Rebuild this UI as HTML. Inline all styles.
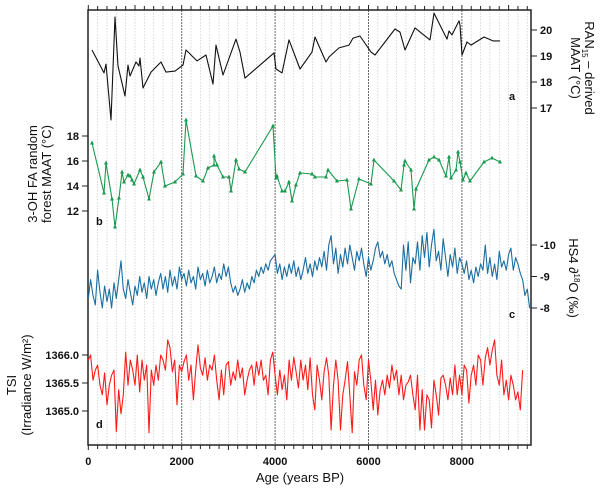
<!DOCTYPE html>
<html><head><meta charset="utf-8"><style>
html,body{margin:0;padding:0;background:#fff;}
svg{display:block;font-family:"Liberation Sans",sans-serif;}
.tk{font-size:11px;font-weight:bold;fill:#111;}
.tt{font-size:13px;fill:#111;}
</style></head><body>
<svg id="chart" width="600" height="490" viewBox="0 0 600 490">
<g id="grid"></g>
<g id="frame"></g>
<g id="series"></g>
<g id="labels">
<text class="tt" x="300" y="482" text-anchor="middle">Age (years BP)</text>
<text class="tt" transform="translate(585,68) rotate(90)" text-anchor="middle">RAN<tspan font-size="8" dy="3">15</tspan><tspan dy="-3"> – derived</tspan></text>
<text class="tt" transform="translate(571,68) rotate(90)" text-anchor="middle">MAAT (°C)</text>
<text class="tt" transform="translate(37,174) rotate(-90)" text-anchor="middle">3-OH FA random</text>
<text class="tt" transform="translate(51,174) rotate(-90)" text-anchor="middle">forest MAAT (°C)</text>
<text class="tt" transform="translate(569,278) rotate(90)" text-anchor="middle">HS4 <tspan font-style="italic">∂</tspan><tspan font-size="8" dy="-5">18</tspan><tspan dy="5">O (‰)</tspan></text>
<text class="tt" transform="translate(16,385) rotate(-90)" text-anchor="middle">TSI</text>
<text class="tt" transform="translate(31,385) rotate(-90)" text-anchor="middle">(Irradiance W/m²)</text>
<text class="tk" x="509" y="100" font-size="12">a</text>
<text class="tk" x="96" y="225" font-size="12">b</text>
<text class="tk" x="509" y="318" font-size="12">c</text>
<text class="tk" x="96" y="428" font-size="12">d</text>
</g>
</svg>
<script>
// ---- data ----
const xTicks = [0, 2000, 4000, 6000, 8000];
const aTicks = [20, 19, 18, 17];
const bTicks = [18, 16, 14, 12];
const cTicks = [-10, -9, -8];
const dTicks = [1366.0, 1365.5, 1365.0];
const dTickLabels = ["1366.0", "1365.5", "1365.0"];

const aAges = [79,336,379,486,572,636,786,850,893,1021,1086,1107,1171,1343,1557,1664,1857,2028,2092,2328,2520,2670,2734,2884,3162,3248,3355,3976,4019,4147,4297,4533,4790,4854,5090,5154,5368,5582,5668,5817,6053,6139,6567,6674,6781,6995,7317,7402,7681,7724,7788,7938,7959,8002,8109,8195,8473,8666,8816];
const aVals = [19.23,18.35,18.69,16.54,20.5,18.62,17.46,18.65,18.23,18.77,18.62,18.92,17.77,18.38,18.77,18.38,18.42,18.65,19.23,18.81,19.04,17.92,19.42,18.27,19.65,19.15,18.15,19.12,18.5,18.35,19.62,18.5,19.15,19.73,18.77,18.96,19.31,19.42,19.69,19.77,19.15,19.04,20.04,19.92,19.23,20.08,19.62,20.65,19.65,19.96,19.81,20.35,20.19,19.04,19.54,19.42,19.73,19.58,19.58];

const bAges = [79,336,379,508,572,657,722,764,850,893,936,979,1107,1171,1300,1407,1557,1642,1857,2028,2092,2306,2456,2563,2692,2692,2756,2884,3013,3056,3162,3227,3355,3955,4019,4040,4147,4212,4297,4362,4447,4533,4790,4854,5090,5133,5325,5539,5625,5796,6053,6117,6546,6696,6760,6781,6910,6974,7017,7295,7402,7509,7659,7724,7767,7874,7917,7959,8024,8088,8173,8473,8645,8816];
const bVals = [17.44,13.44,15.84,12.96,10.72,13.04,15.12,14.32,14.88,14.8,14.48,14.16,15.28,14.72,12.96,15.12,15.92,14,14.32,14.96,19.28,14.8,14.4,15.44,15.68,16.4,15.68,14.72,14.72,13.6,16.08,15.36,15.12,18.8,14.64,14.8,13.6,13.6,14.32,12.8,14.08,15.04,14.96,14.72,14.72,15.28,14.4,14.48,12.16,14.56,14.16,16.08,14.4,13.68,15.68,16,15.28,12.16,13.76,16.08,16.32,16.08,14.8,16.32,14.64,15.28,16.72,15.92,14.48,15.04,14.4,15.92,16.24,15.92];

const cStep = 50;
const cVals = [-8.3,-8.9,-8.4,-8.1,-9.2,-8.5,-8.0,-8.7,-8.2,-8.6,
-8.0,-8.8,-8.3,-8.9,-9.5,-8.6,-8.3,-8.9,-8.5,-8.1,
-8.7,-8.4,-9.0,-8.5,-8.8,-8.3,-9.0,-8.6,-8.9,-8.4,
-8.8,-9.1,-8.6,-9.0,-8.5,-9.2,-8.7,-9.0,-8.6,-9.3,
-8.9,-9.1,-8.7,-9.2,-8.8,-9.0,-8.6,-9.3,-8.9,-9.1,
-8.7,-9.2,-8.8,-9.0,-9.3,-8.8,-9.1,-8.9,-9.4,-9.0,
-9.3,-8.8,-8.5,-8.7,-8.4,-8.6,-8.9,-8.5,-8.8,-8.6,
-9.0,-8.8,-9.2,-9.0,-9.3,-9.1,-9.4,-9.2,-9.5,-9.6,
-9.7,-9.1,-9.4,-8.9,-9.3,-9.0,-9.4,-9.1,-9.5,-9.0,
-9.3,-8.9,-9.2,-9.6,-9.1,-9.4,-9.0,-9.5,-9.2,-9.6,
-9.3,-9.8,-9.2,-10.0,-10.3,-9.4,-9.9,-9.1,-9.7,-9.3,
-9.9,-9.4,-10.0,-9.6,-9.2,-9.8,-9.5,-9.9,-9.4,-9.0,
-9.6,-9.2,-9.5,-9.9,-10.1,-9.6,-9.8,-9.4,-9.7,-9.3,
-9.5,-9.1,-8.9,-8.7,-8.6,-10.0,-9.2,-10.1,-8.8,-9.6,
-9.4,-10.1,-9.2,-10.3,-9.6,-10.4,-9.3,-10.0,-10.5,-9.5,
-9.8,-9.2,-10.2,-9.6,-9.0,-9.7,-9.3,-9.9,-9.1,-9.6,
-9.4,-9.1,-9.5,-8.9,-9.2,-8.8,-9.3,-9.0,-9.4,-9.2,
-10.0,-9.1,-9.6,-9.0,-9.4,-8.9,-9.8,-9.3,-9.5,-9.2,
-9.7,-9.9,-9.2,-9.6,-9.4,-9.1,-8.9,-8.4,-8.6,-8.0];

const dStep = 50;
const dVals = [1365.91,1366.0,1365.55,1365.73,1365.82,1365.46,1365.29,1365.68,1365.11,1365.46,
1365.64,1365.73,1364.63,1365.38,1364.95,1365.29,1366.05,1365.46,1365.91,1365.73,
1365.46,1366.0,1365.34,1365.91,1365.55,1365.82,1364.61,1365.73,1365.46,1365.82,
1365.55,1366.0,1365.91,1365.73,1366.27,1366.13,1365.70,1365.91,1365.11,1365.82,
1365.70,1365.88,1366.0,1365.55,1365.82,1365.20,1365.73,1366.18,1365.77,1365.64,
1365.95,1365.55,1365.82,1365.73,1366.0,1365.55,1365.20,1365.73,1365.29,1365.82,1365.88,
1365.46,1365.70,1365.55,1365.91,1365.59,1365.77,1365.29,1365.55,1365.73,1365.82,
1365.46,1365.88,1365.64,1365.91,1365.55,1365.64,1365.29,1365.91,1366.05,1365.64,
1365.29,1365.73,1365.38,1365.64,1365.20,1365.91,1365.55,1365.96,1365.70,1365.41,
1365.91,1365.55,1365.82,1365.38,
1365.95,1365.29,1365.02,1365.82,1365.55,1365.20,1365.70,1365.95,1365.64,1364.66,
1365.46,1365.91,1365.55,1364.66,1365.29,1365.55,1365.88,1365.29,1364.61,1365.70,
1365.46,1365.91,1366.0,1365.46,1365.20,1365.91,1365.55,1365.02,1365.55,1364.93,
1365.38,1365.55,1365.29,1365.64,1365.41,1365.82,1365.55,1365.73,1365.29,1365.64,
1365.20,1365.46,1365.52,1365.64,1365.29,1365.02,1365.64,1364.66,1365.38,1364.66,
1365.29,1365.20,1364.70,1365.55,1365.29,1364.93,1365.59,1365.64,1365.46,1365.20,
1365.59,1365.29,1365.82,1365.29,1365.64,1365.29,
1365.82,1365.73,1365.14,1365.64,1365.82,1365.46,1366.0,1365.91,1365.46,1365.95,
1366.13,1365.82,1366.09,1366.27,1365.64,1365.46,1365.91,1365.29,1365.55,1365.20,
1365.64,1365.46,1365.20,1365.34,1365.02,1365.73];

// ---- scales ----
const X0 = 88.3, PXY = 0.0467, LEFT = 88, RIGHT = 531, TOP = 10, BOTTOM = 445;
const xS = a => X0 + a * PXY;
const yA = v => 30 + (20 - v) * 26;
const yB = v => 136 + (18 - v) * 12.5;
const yC = v => 245 + (v + 10) * 31.5;
const yD = v => 355 + (1366 - v) * 56;

const NS = "http://www.w3.org/2000/svg";
function mk(tag, attrs, parent) {
  const e = document.createElementNS(NS, tag);
  for (const k in attrs) e.setAttribute(k, attrs[k]);
  parent.appendChild(e);
  return e;
}
const grid = document.getElementById('grid');
const frame = document.getElementById('frame');
const series = document.getElementById('series');
const labels = document.getElementById('labels');

for (let a = 200; a <= 9400; a += 200) {
  const major = a % 2000 === 0;
  const l = mk('line', {x1: xS(a), x2: xS(a), y1: TOP, y2: BOTTOM,
    stroke: major ? '#666' : '#cfcfcf', 'stroke-width': major ? 1 : 0.8,
    'stroke-dasharray': major ? '2,1' : '1.5,1.5'}, grid);
  
  
}

const fr = mk('rect', {x: LEFT, y: TOP, width: RIGHT - LEFT, height: BOTTOM - TOP, fill: 'none', stroke: '#222', 'stroke-width': 1.5}, frame);


for (let a = 0; a <= 9400; a += 200) {
  const len = a % 1000 === 0 ? 5 : 4;
  const t1 = mk('line', {x1: xS(a), x2: xS(a), y1: TOP, y2: TOP - len, stroke: '#222'}, frame);
  
  
  const t2 = mk('line', {x1: xS(a), x2: xS(a), y1: BOTTOM, y2: BOTTOM + len, stroke: '#222'}, frame);
  
  
}
xTicks.forEach(a => {
  const t = mk('text', {x: xS(a), y: 465, 'text-anchor': 'middle', class: 'tk'}, labels);
  t.textContent = String(a);
  
  
});
function yAxis(ticks, scale, side, fmt, name) {
  ticks.forEach((v, i) => {
    const y = scale(v);
    const x1 = side === 'r' ? RIGHT : LEFT;
    const x2 = side === 'r' ? RIGHT + 6 : LEFT - 6;
    const l = mk('line', {x1: x1, x2: x2, y1: y, y2: y, stroke: '#222'}, frame);
    
    
    const t = mk('text', {x: side === 'r' ? RIGHT + 9 : LEFT - 9, y: y + 4, 'text-anchor': side === 'r' ? 'start' : 'end', class: 'tk'}, labels);
    t.textContent = fmt ? fmt[i] : String(v);
    
    
  });
}
yAxis(aTicks, yA, 'r', null, 'a-axis');
yAxis(bTicks, yB, 'l', null, 'b-axis');
yAxis(cTicks, yC, 'r', null, 'c-axis');
yAxis(dTicks, yD, 'l', dTickLabels, 'd-axis');

function poly(pts, color, w) {
  return mk('polyline', {points: pts.map(p => p[0].toFixed(1) + ',' + p[1].toFixed(1)).join(' '), fill: 'none', stroke: color, 'stroke-width': w, 'stroke-linejoin': 'round'}, series);
}
const la = poly(aAges.map((a, i) => [xS(a), yA(aVals[i])]), '#111', 1.1);


const lb = poly(bAges.map((a, i) => [xS(a), yB(bVals[i])]), '#1a9a50', 1.1);


bAges.forEach((a, i) => {
  const x = xS(a), y = yB(bVals[i]);
  const m = mk('polygon', {points: `${x},${y - 2.5} ${x - 2},${y + 1.5} ${x + 2},${y + 1.5}`, fill: '#1a9a50'}, series);
  
  
});
const lc = poly(cVals.map((v, i) => [xS(i * cStep), yC(v)]), '#1a6ea0', 1.1);


const ld = poly(dVals.map((v, i) => [xS(i * dStep), yD(v)]), '#ff1a1a', 1.1);


</script>
</body></html>
